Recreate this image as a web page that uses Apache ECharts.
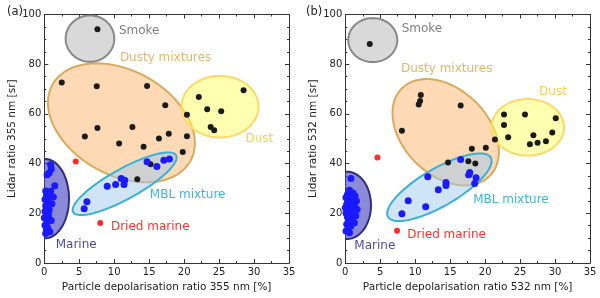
<!DOCTYPE html>
<html>
<head>
<meta charset="utf-8">
<script src="https://cdn.jsdelivr.net/npm/echarts@6/dist/echarts.min.js"></script>
<style>html,body{margin:0;padding:0;background:#fff}#c{width:600px;height:298px}</style>
</head>
<body>
<div id="c"></div>
<script>
// ---------- data ----------
const xTicks = [0, 5, 10, 15, 20, 25, 30, 35];
const yTicks = [0, 20, 40, 60, 80, 100];

// Panel (a) 355 nm
const blackA = [[7.6,94.1],[2.5,72.6],[7.5,71.1],[14.7,71.2],[17.3,63.5],[20.4,59.7],
  [22.1,66.8],[23.3,61.9],[25.3,61.1],[28.5,69.5],[23.8,54.7],[24.3,53.4],
  [5.8,50.9],[7.6,54.3],[12.6,54.7],[10.7,48.1],[14.2,46.8],[16.4,50.1],[17.8,52.0],[20.4,51.0],
  [19.8,44.7],[15.2,39.7],[13.3,33.7]];
const mblA = [[14.7,40.7],[17.1,41.3],[17.9,41.9],[16.1,38.8],[11.0,34.0],[11.5,33.3],
  [11.4,31.6],[10.2,31.6],[9.0,30.9],[6.1,24.6],[5.7,21.8]];
const marineA = [[0.9,39.5],[1.0,37.8],[0.7,36.2],[0.4,35.5],[1.5,31.1],[0.2,29.0],[0.5,28.4],
  [0.3,27.1],[0.8,26.8],[1.3,26.6],[0.1,25.6],[0.6,24.2],[1.1,23.8],[0.2,23.0],[0.4,22.5],
  [0.7,21.4],[0.1,20.8],[0.3,19.6],[0.6,18.8],[0.2,17.9],[1.0,17.1],[0.4,16.4],[0.1,15.2],
  [0.5,14.1],[0.3,13.4],[0.8,12.6],[0.2,11.9],[0.6,20.2],[0.9,28.9],[0.0,18.2]];
const driedA = [[4.5,40.8],[8.0,16.1]];

// Panel (b) 532 nm
const blackB = [[3.5,88.1],[10.8,67.6],[10.7,65.2],[10.5,63.8],[16.5,63.4],[8.1,53.2],[21.4,49.7],
  [20.1,46.4],[18.1,46.0],[14.7,40.4],[17.6,40.9],[18.6,40.0],[17.6,35.3],
  [22.7,59.8],[22.7,55.5],[23.3,50.6],[25.7,59.8],[26.9,51.4],[26.4,47.8],[27.5,48.4],
  [28.7,49.0],[29.6,52.5],[30.1,58.2]];
const mblB = [[16.5,41.7],[17.8,36.4],[17.7,35.6],[18.7,34.3],[18.5,32.0],[14.4,32.4],[14.4,31.2],
  [13.3,29.5],[11.8,34.7],[9.0,25.1],[11.5,22.6],[8.1,19.8]];
const marineB = [[0.8,34.0],[0.6,29.3],[1.1,28.2],[0.3,27.5],[1.4,27.0],[0.1,26.4],[0.7,26.0],
  [1.6,25.0],[0.4,24.8],[1.0,24.2],[0.2,23.6],[1.3,23.3],[0.6,22.8],[0.0,22.2],[0.9,21.9],
  [1.7,21.5],[0.4,21.0],[1.2,20.6],[0.1,20.1],[0.7,19.6],[1.5,19.0],[0.3,18.5],[1.0,17.8],
  [0.5,17.2],[1.3,16.2],[0.2,15.6],[0.8,14.9],[0.4,13.8],[0.1,12.9],[0.6,12.2],[1.0,22.7],[0.3,25.6]];
const driedB = [[4.6,42.5],[7.4,13.0]];

// ---------- annotations (cluster ellipses & labels) ----------
const STY = {
  dusty:  {fill:'rgba(251,179,109,0.5)', stroke:'#d9aa5c', text:'#e6b468'},
  dust:   {fill:'rgba(255,255,97,0.5)',  stroke:'#ffd766', text:'#f7d24a'},
  smoke:  {fill:'rgba(179,179,179,0.5)', stroke:'#888888', text:'#7f7f7f'},
  mbl:    {fill:'rgba(159,201,235,0.5)', stroke:'#3ab0d5', text:'#3ab4e0'},
  marine: {fill:'rgba(60,60,190,0.6)',   stroke:'#2e2e7a', text:'#4d4d9e'},
  dried:  {text:'#ff3030'}
};
// center in data units, semi-axes in px, rotation in deg (screen)
const ellA = [
  {k:'dusty', c:[11.03,56.4], a:78.8, b:52.2, r:28.9},
  {k:'dust',  c:[25.13,62.9], a:38.5, b:30.8, r:0},
  {k:'smoke', c:[6.53,90.3],  a:24.3, b:23.2, r:0},
  {k:'mbl',   c:[11.49,31.9], a:58.8, b:15.1, r:-28.9},
  {k:'marine',c:[0.1,25.9],   a:24,   b:39.7, r:0}
];
const ellB = [
  {k:'dusty', c:[14.36,52.6], a:62,   b:42.6, r:45},
  {k:'dust',  c:[26.1,54.6],  a:36.3, b:28.3, r:0},
  {k:'smoke', c:[3.93,89.7],  a:24.5, b:22,   r:0},
  {k:'mbl',   c:[13.46,30.5], a:59.3, b:18.8, r:-30},
  {k:'marine',c:[0.24,23.2],  a:24,   b:33.7, r:0}
];
const labA = [
  {k:'smoke', t:'Smoke', p:[10.67,93.5]},
  {k:'dusty', t:'Dusty mixtures', p:[10.81,82.4]},
  {k:'dust', t:'Dust', p:[28.77,50.0]},
  {k:'mbl', t:'MBL mixture', p:[15.1,27.4]},
  {k:'dried', t:'Dried marine', p:[9.53,14.5]},
  {k:'marine', t:'Marine', p:[1.63,7.4]}
];
const labB = [
  {k:'smoke', t:'Smoke', p:[8.06,94.1]},
  {k:'dusty', t:'Dusty mixtures', p:[7.96,78.1]},
  {k:'dust', t:'Dust', p:[27.71,68.8]},
  {k:'mbl', t:'MBL mixture', p:[18.29,25.6]},
  {k:'dried', t:'Dried marine', p:[8.86,11.4]},
  {k:'marine', t:'Marine', p:[1.29,6.8]}
];

const FONT = 'DejaVu Sans';

function ellipseSeries(gi, list) {
  return {
    type:'custom', xAxisIndex:gi*2, yAxisIndex:gi*2, clip:true, silent:true, z:1,
    data: list.map(e => [e.c[0], e.c[1]]),
    renderItem: function(params, api) {
      const e = list[params.dataIndex];
      const c = api.coord([api.value(0), api.value(1)]);
      const th = e.r * Math.PI / 180, ct = Math.cos(th), st = Math.sin(th);
      const pts = [];
      for (let i = 0; i < 120; i++) {
        const t = i / 120 * Math.PI * 2;
        const u = e.a * Math.cos(t), v = e.b * Math.sin(t);
        pts.push([c[0] + u*ct - v*st, c[1] + u*st + v*ct]);
      }
      const s = STY[e.k];
      return {type:'polygon', shape:{points:pts},
        style:{fill:s.fill, stroke:s.stroke, lineWidth:2}};
    }
  };
}
function labelSeries(gi, list) {
  return {
    type:'custom', xAxisIndex:gi*2, yAxisIndex:gi*2, silent:true, z:5,
    data: list.map(l => l.p),
    renderItem: function(params, api) {
      const l = list[params.dataIndex];
      const c = api.coord([api.value(0), api.value(1)]);
      return {type:'text', x:c[0], y:c[1],
        style:{text:l.t, fill:STY[l.k].text, font:'12px "' + FONT + '"',
          align:'left', verticalAlign:'middle'}};
    }
  };
}
function scat(gi, data, color, size) {
  return {type:'scatter', xAxisIndex:gi*2, yAxisIndex:gi*2, data:data, symbolSize:size,
    itemStyle:{color:color, opacity:1}, z:3, silent:true};
}

function axesX(gi, name) {
  const base = {gridIndex:gi, type:'value', min:xTicks[0], max:xTicks[xTicks.length-1], interval:5,
    axisLine:{show:true, onZero:false, lineStyle:{color:'#333', width:1}},
    axisTick:{show:true, inside:true, length:4, lineStyle:{color:'#333'}},
    minorTick:{show:true, splitNumber:2, length:2, lineStyle:{color:'#333'}},
    splitLine:{show:false}};
  return [
    Object.assign({}, base, {position:'bottom', name:name, nameLocation:'middle', nameGap:19,
      nameTextStyle:{fontFamily:FONT, fontSize:10.5, color:'#222'},
      axisLabel:{fontFamily:FONT, fontSize:10, color:'#222', margin:4}}),
    Object.assign({}, base, {position:'top', axisLabel:{show:false}})
  ];
}
function axesY(gi, name) {
  const base = {gridIndex:gi, type:'value', min:yTicks[0], max:yTicks[yTicks.length-1], interval:20,
    axisLine:{show:true, onZero:false, lineStyle:{color:'#333', width:1}},
    axisTick:{show:true, inside:true, length:4, lineStyle:{color:'#333'}},
    minorTick:{show:true, splitNumber:4, length:2, lineStyle:{color:'#333'}},
    splitLine:{show:false}};
  return [
    Object.assign({}, base, {position:'left', name:name, nameLocation:'middle', nameGap:27,
      nameTextStyle:{fontFamily:FONT, fontSize:10.5, color:'#222'},
      axisLabel:{fontFamily:FONT, fontSize:10, color:'#222', margin:3}}),
    Object.assign({}, base, {position:'right', axisLabel:{show:false}})
  ];
}

const chart = echarts.init(document.getElementById('c'), null, {renderer:'canvas'});
chart.setOption({
  animation:false,
  backgroundColor:'#fff',
  textStyle:{fontFamily:FONT},
  title:[
    {text:'(a)', left:2, top:1, textStyle:{fontFamily:FONT, fontSize:11.5, fontWeight:'normal', color:'#222'}},
    {text:'(b)', left:301, top:1, textStyle:{fontFamily:FONT, fontSize:11.5, fontWeight:'normal', color:'#222'}}
  ],
  grid:[
    {left:44.3, right:311, top:14.5, bottom:32.7},
    {left:345.3, right:10, top:14.5, bottom:32.7}
  ],
  xAxis: axesX(0, 'Particle depolarisation ratio 355 nm [%]').concat(axesX(1, 'Particle depolarisation ratio 532 nm [%]')),
  yAxis: axesY(0, 'Lidar ratio 355 nm [sr]').concat(axesY(1, 'Lidar ratio 532 nm [sr]')),
  series:[
    ellipseSeries(0, ellA), ellipseSeries(1, ellB),
    labelSeries(0, labA), labelSeries(1, labB),
    scat(0, blackA, '#1a1a1a', 6), scat(0, mblA, '#1a1aff', 7), scat(0, marineA, '#1a1aff', 7), scat(0, driedA, '#ff2a2a', 6),
    scat(1, blackB, '#1a1a1a', 6), scat(1, mblB, '#1a1aff', 7), scat(1, marineB, '#1a1aff', 7), scat(1, driedB, '#ff2a2a', 6)
  ]
});
</script>
</body>
</html>
